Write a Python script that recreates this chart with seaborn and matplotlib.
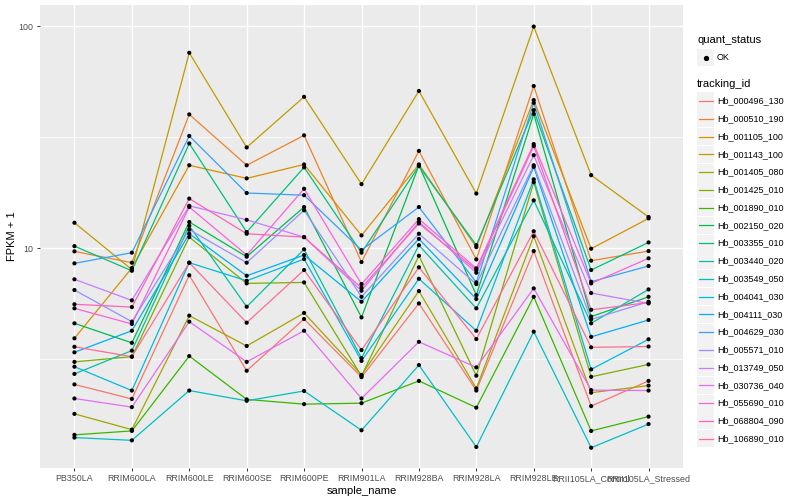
import numpy as np
import pandas as pd
import matplotlib
matplotlib.use("Agg")
import matplotlib.pyplot as plt
from matplotlib.lines import Line2D
from matplotlib.patches import Rectangle
import seaborn as sns

samples = ["PB350LA", "RRIM600LA", "RRIM600LE", "RRIM600SE", "RRIM600PE", "RRIM901LA",
           "RRIM928BA", "RRIM928LA", "RRIM928LE", "RRII105LA_Control", "RRII105LA_Stressed"]

tracking_ids = ["Hb_000496_130", "Hb_000510_190", "Hb_001105_100", "Hb_001143_100",
                "Hb_001405_080", "Hb_001425_010", "Hb_001890_010", "Hb_002150_020",
                "Hb_003355_010", "Hb_003440_020", "Hb_003549_050", "Hb_004041_030",
                "Hb_004111_030", "Hb_004629_030", "Hb_005571_010", "Hb_013749_050",
                "Hb_030736_040", "Hb_055690_010", "Hb_068804_090", "Hb_106890_010"]

# FPKM + 1 per gene, in sample order
Hb_000496_130 = [2.43, 2.09, 7.54, 2.80, 4.79, 2.62, 5.63, 2.28, 9.69, 1.94, 2.52]
Hb_000510_190 = [9.66, 8.59, 40.0, 23.6, 32.2, 8.65, 27.4, 8.89, 53.7, 8.77, 9.69]
Hb_001105_100 = [3.92, 8.13, 23.6, 20.6, 23.8, 11.4, 23.8, 10.1, 46.4, 9.93, 13.6]
Hb_001143_100 = [13.0, 8.0, 75.8, 28.4, 48.0, 19.4, 51.0, 17.6, 99.5, 21.3, 13.8]
Hb_001405_080 = [1.79, 1.52, 4.96, 3.62, 5.10, 2.68, 6.40, 2.33, 11.3, 2.23, 2.40]
Hb_001425_010 = [3.07, 3.24, 11.2, 6.93, 7.00, 2.65, 9.23, 2.66, 19.8, 2.63, 2.99]
Hb_001890_010 = [1.44, 1.50, 3.26, 2.08, 1.98, 2.00, 2.52, 1.91, 6.03, 1.50, 1.74]
Hb_002150_020 = [4.58, 3.74, 13.1, 9.14, 15.3, 4.87, 23.6, 6.14, 40.2, 4.91, 6.03]
Hb_003355_010 = [10.2, 7.90, 29.6, 11.8, 23.1, 9.53, 23.4, 10.3, 41.8, 7.96, 10.6]
Hb_003440_020 = [2.71, 3.45, 12.6, 5.44, 9.87, 3.19, 10.3, 5.35, 16.4, 4.58, 6.51]
Hb_003549_050 = [1.40, 1.36, 2.28, 2.05, 2.27, 1.51, 2.97, 1.27, 4.20, 1.26, 1.61]
Hb_004041_030 = [2.92, 2.28, 8.59, 7.12, 8.92, 3.10, 7.27, 4.24, 20.4, 2.84, 3.88]
Hb_004111_030 = [3.39, 4.24, 11.6, 7.50, 9.30, 5.73, 11.0, 5.89, 23.2, 3.98, 4.74]
Hb_004629_030 = [8.53, 9.53, 32.0, 17.7, 17.3, 9.79, 15.3, 7.00, 45.1, 7.05, 8.30]
Hb_005571_010 = [6.47, 4.66, 12.1, 8.59, 14.8, 6.03, 11.6, 6.88, 23.6, 4.77, 5.73]
Hb_013749_050 = [7.23, 5.81, 15.5, 13.4, 11.2, 6.42, 13.1, 7.74, 26.2, 6.27, 5.63]
Hb_030736_040 = [2.10, 1.92, 4.66, 3.07, 4.24, 2.10, 3.78, 2.90, 6.58, 2.29, 2.28]
Hb_055690_010 = [5.35, 4.55, 15.3, 9.30, 18.5, 6.88, 13.5, 8.10, 29.4, 6.93, 8.99]
Hb_068804_090 = [5.58, 5.42, 16.7, 11.6, 11.2, 6.62, 12.9, 7.96, 28.8, 5.27, 5.68]
Hb_106890_010 = [3.59, 3.24, 8.59, 4.61, 7.96, 3.47, 8.19, 3.89, 11.9, 3.57, 3.60]

series = [Hb_000496_130, Hb_000510_190, Hb_001105_100, Hb_001143_100, Hb_001405_080,
          Hb_001425_010, Hb_001890_010, Hb_002150_020, Hb_003355_010, Hb_003440_020,
          Hb_003549_050, Hb_004041_030, Hb_004111_030, Hb_004629_030, Hb_005571_010,
          Hb_013749_050, Hb_030736_040, Hb_055690_010, Hb_068804_090, Hb_106890_010]

palette = ["#F8766D", "#EA8331", "#D89000", "#C09B00", "#A3A500", "#7CAE00", "#39B600",
           "#00BB4E", "#00BF7D", "#00C1A3", "#00BFC4", "#00BAE0", "#00B0F6", "#35A2FF",
           "#9590FF", "#C77CFF", "#E76BF3", "#FA62DB", "#FF62BC", "#FF6C91"]

rows = []
for tid, vals in zip(tracking_ids, series):
    for i, (s, v) in enumerate(zip(samples, vals)):
        rows.append({"tracking_id": tid, "sample_name": s, "pos": i, "fpkm1": v,
                     "quant_status": "OK"})
df = pd.DataFrame(rows)

plt.rcParams["font.family"] = ["Liberation Sans", "DejaVu Sans"]

W, H = 800, 500
fig = plt.figure(figsize=(8, 5), dpi=100)
L, R, T, B = 40, 683, 5, 468
ax = fig.add_axes([L / W, 1 - B / H, (R - L) / W, (B - T) / H])
ax.set_facecolor("#EBEBEB")
for s in ax.spines.values():
    s.set_visible(False)

ax.set_yscale("log")
ax.set_xlim(-0.6, len(samples) - 1 + 0.6)
ax.set_ylim(10 ** 0.009, 10 ** 2.095)

# grid
for yv in [10 ** 0.5, 10 ** 1.5]:
    ax.axhline(yv, color="white", lw=0.5, zorder=0)
for yv in [10, 100]:
    ax.axhline(yv, color="white", lw=1.0, zorder=0)
for i in range(len(samples)):
    ax.axvline(i, color="white", lw=1.0, zorder=0)

sns.lineplot(data=df, x="pos", y="fpkm1", hue="tracking_id", hue_order=tracking_ids,
             palette=palette, sort=False, estimator=None, legend=False, lw=0.9, ax=ax,
             zorder=2)
sns.scatterplot(data=df, x="pos", y="fpkm1", color="black", s=9, edgecolor="none",
                legend=False, ax=ax, zorder=3)

ax.set_xticks(range(len(samples)))
ax.set_xticklabels(samples, fontsize=6.4, color="#4D4D4D")
ax.set_yticks([10, 100])
ax.set_yticklabels(["10", "100"], fontsize=6.4, color="#4D4D4D")
ax.yaxis.set_minor_locator(matplotlib.ticker.NullLocator())
ax.tick_params(axis="both", which="major", length=2.5, width=0.7, color="#333333", pad=2)
ax.set_xlabel("sample_name", fontsize=8, labelpad=2)
ax.set_ylabel("FPKM + 1", fontsize=8, labelpad=1)

# legends (ggplot style)
def fx(x):
    return x / W

def fy(y):
    return 1 - y / H

fig.text(fx(697), fy(40), "quant_status", fontsize=8, ha="left", va="center")
fig.patches.append(Rectangle((fx(697), fy(66)), 17 / W, 17 / H, transform=fig.transFigure,
                             facecolor="#F2F2F2", edgecolor="none"))
fig.lines.append(Line2D([fx(705.5)], [fy(57.5)], transform=fig.transFigure, marker="o",
                        color="black", markersize=2.8, linestyle="none"))
fig.text(fx(717), fy(57.5), "OK", fontsize=6.5, ha="left", va="center")

fig.text(fx(697), fy(84), "tracking_id", fontsize=8, ha="left", va="center")
step = (438.7 - 101) / 19
for k, (tid, col) in enumerate(zip(tracking_ids, palette)):
    yc = 101 + k * step
    fig.patches.append(Rectangle((fx(697), fy(yc + 8.5)), 17 / W, 17 / H,
                                 transform=fig.transFigure, facecolor="#F2F2F2",
                                 edgecolor="none"))
    fig.lines.append(Line2D([fx(698.5), fx(712.5)], [fy(yc), fy(yc)],
                            transform=fig.transFigure, color=col, lw=0.9))
    fig.text(fx(717), fy(yc), tid, fontsize=6.5, ha="left", va="center")

fig.savefig("out.png", dpi=100)
